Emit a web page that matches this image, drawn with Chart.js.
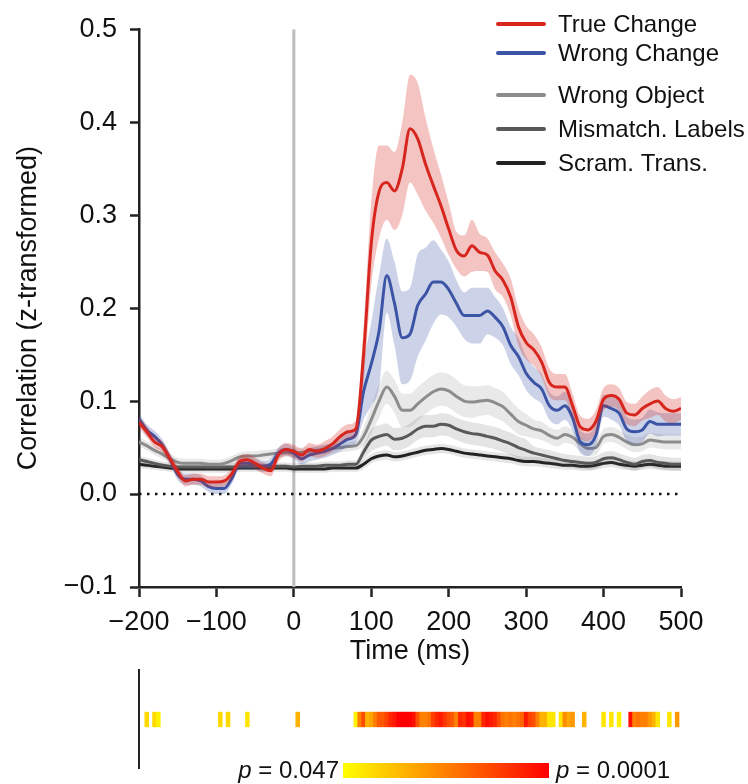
<!DOCTYPE html>
<html>
<head>
<meta charset="utf-8">
<script src="https://cdn.jsdelivr.net/npm/chart.js@4.4.1/dist/chart.umd.min.js"></script>
<style>
  html, body { margin: 0; padding: 0; background: #fff; }
  #wrap { position: relative; width: 748px; height: 784px; overflow: hidden; font-family: "Liberation Sans", Arial, sans-serif; color: #111; }
  #main { position: absolute; left: 0; top: 0; }
  #strip { position: absolute; left: 0; top: 660px; }
  #cbar { position: absolute; left: 343px; top: 763px; width: 206px; height: 15px; background: linear-gradient(to right, rgb(255,255,0), rgb(255,0,0)); }
  .plab { position: absolute; top: 756px; font-size: 24px; line-height: 28px; white-space: nowrap; }
</style>
</head>
<body>
<div id="wrap">
  <canvas id="main" width="748" height="680"></canvas>
  <canvas id="strip" width="748" height="112"></canvas>
  <div id="cbar"></div>
  <div class="plab" style="right:409px"><i>p</i> = 0.047</div>
  <div class="plab" style="left:556px"><i>p</i> = 0.0001</div>
</div>
<script>
// time axis (ms)
const times = [-200, -190, -180, -170, -160, -150, -140, -130, -120, -110,
  -100, -90, -80, -70, -60, -50, -40, -30, -20, -10,
  0, 10, 20, 30, 40, 50, 60, 70, 80, 90,
  100, 110, 120, 130, 140, 150, 160, 170, 180, 190,
  200, 210, 220, 230, 240, 250, 260, 270, 280, 290,
  300, 310, 320, 330, 340, 350, 360, 370, 380, 390,
  400, 410, 420, 430, 440, 450, 460, 470, 480, 490,
  500];

// mean correlation per condition
const trueChange = [0.077, 0.067, 0.056, 0.051, 0.038, 0.024, 0.014, 0.016, 0.016, 0.013,
  0.013, 0.014, 0.022, 0.035, 0.037, 0.033, 0.028, 0.025, 0.042, 0.048,
  0.046, 0.042, 0.048, 0.046, 0.049, 0.054, 0.062, 0.067, 0.070, 0.150,
  0.270, 0.325, 0.335, 0.326, 0.350, 0.393, 0.382, 0.355, 0.332, 0.310,
  0.285, 0.262, 0.256, 0.267, 0.260, 0.257, 0.240, 0.230, 0.212, 0.180,
  0.163, 0.155, 0.142, 0.120, 0.115, 0.115, 0.095, 0.072, 0.069, 0.078,
  0.102, 0.106, 0.102, 0.087, 0.085, 0.092, 0.097, 0.100, 0.092, 0.089,
  0.092];
const wrongChange = [0.081, 0.069, 0.062, 0.053, 0.038, 0.021, 0.016, 0.016, 0.014, 0.008,
  0.006, 0.006, 0.017, 0.033, 0.033, 0.032, 0.030, 0.032, 0.044, 0.048,
  0.044, 0.038, 0.042, 0.044, 0.046, 0.049, 0.054, 0.059, 0.064, 0.110,
  0.140, 0.175, 0.235, 0.205, 0.168, 0.172, 0.203, 0.215, 0.228, 0.228,
  0.220, 0.205, 0.192, 0.192, 0.192, 0.197, 0.190, 0.180, 0.160, 0.148,
  0.130, 0.120, 0.113, 0.095, 0.090, 0.095, 0.082, 0.056, 0.053, 0.063,
  0.095, 0.092, 0.087, 0.070, 0.067, 0.069, 0.078, 0.075, 0.075, 0.075,
  0.075];
const wrongObject = [0.056, 0.052, 0.047, 0.043, 0.038, 0.034, 0.033, 0.033, 0.033, 0.032,
  0.032, 0.033, 0.036, 0.040, 0.041, 0.041, 0.042, 0.043, 0.044, 0.045,
  0.044, 0.045, 0.046, 0.047, 0.048, 0.049, 0.050, 0.051, 0.052, 0.062,
  0.080, 0.100, 0.115, 0.105, 0.090, 0.090, 0.097, 0.104, 0.110, 0.113,
  0.111, 0.105, 0.100, 0.099, 0.100, 0.101, 0.098, 0.094, 0.086, 0.078,
  0.074, 0.070, 0.068, 0.063, 0.060, 0.064, 0.061, 0.054, 0.049, 0.050,
  0.062, 0.064, 0.061, 0.056, 0.053, 0.054, 0.058, 0.057, 0.056, 0.056,
  0.056];
const mismatchLabels = [0.037, 0.035, 0.033, 0.031, 0.030, 0.029, 0.029, 0.029, 0.029, 0.029,
  0.029, 0.029, 0.029, 0.030, 0.030, 0.030, 0.030, 0.030, 0.030, 0.030,
  0.029, 0.030, 0.030, 0.030, 0.031, 0.031, 0.031, 0.032, 0.032, 0.045,
  0.058, 0.062, 0.064, 0.059, 0.060, 0.064, 0.070, 0.073, 0.073, 0.075,
  0.074, 0.070, 0.067, 0.065, 0.064, 0.062, 0.060, 0.057, 0.054, 0.050,
  0.047, 0.044, 0.042, 0.040, 0.038, 0.036, 0.035, 0.034, 0.033, 0.034,
  0.038, 0.039, 0.037, 0.034, 0.032, 0.035, 0.036, 0.034, 0.033, 0.032,
  0.032];
const scramTrans = [0.032, 0.031, 0.030, 0.029, 0.028, 0.027, 0.027, 0.027, 0.027, 0.027,
  0.027, 0.027, 0.027, 0.028, 0.028, 0.028, 0.028, 0.028, 0.028, 0.028,
  0.027, 0.027, 0.027, 0.027, 0.027, 0.028, 0.028, 0.028, 0.028, 0.032,
  0.038, 0.041, 0.042, 0.040, 0.041, 0.043, 0.045, 0.047, 0.048, 0.049,
  0.048, 0.046, 0.044, 0.043, 0.042, 0.041, 0.040, 0.039, 0.038, 0.036,
  0.035, 0.035, 0.034, 0.033, 0.032, 0.031, 0.031, 0.030, 0.030, 0.031,
  0.033, 0.034, 0.032, 0.031, 0.030, 0.031, 0.032, 0.031, 0.030, 0.030,
  0.030];

// standard error (half width of the shaded bands)
const trueChangeSem = [0.006, 0.006, 0.006, 0.006, 0.006, 0.006, 0.006, 0.006, 0.006, 0.006,
  0.006, 0.006, 0.006, 0.006, 0.006, 0.006, 0.006, 0.006, 0.007, 0.007,
  0.007, 0.007, 0.007, 0.007, 0.008, 0.008, 0.008, 0.008, 0.009, 0.030,
  0.045, 0.050, 0.040, 0.042, 0.050, 0.058, 0.060, 0.050, 0.040, 0.034,
  0.028, 0.020, 0.022, 0.028, 0.020, 0.018, 0.020, 0.018, 0.020, 0.020,
  0.018, 0.017, 0.016, 0.015, 0.014, 0.014, 0.013, 0.012, 0.012, 0.012,
  0.012, 0.012, 0.012, 0.012, 0.012, 0.013, 0.015, 0.015, 0.014, 0.013,
  0.012];
const wrongChangeSem = [0.006, 0.006, 0.006, 0.006, 0.006, 0.006, 0.006, 0.006, 0.006, 0.006,
  0.006, 0.006, 0.006, 0.006, 0.006, 0.006, 0.006, 0.006, 0.006, 0.006,
  0.006, 0.006, 0.007, 0.007, 0.007, 0.007, 0.008, 0.008, 0.009, 0.030,
  0.045, 0.060, 0.040, 0.045, 0.050, 0.050, 0.055, 0.050, 0.045, 0.035,
  0.030, 0.025, 0.025, 0.030, 0.030, 0.025, 0.022, 0.020, 0.020, 0.020,
  0.018, 0.017, 0.016, 0.015, 0.015, 0.015, 0.014, 0.012, 0.012, 0.012,
  0.012, 0.012, 0.013, 0.013, 0.013, 0.013, 0.013, 0.013, 0.012, 0.012,
  0.012];
const wrongObjectSem = [0.005, 0.005, 0.005, 0.005, 0.005, 0.005, 0.005, 0.005, 0.005, 0.005,
  0.005, 0.005, 0.005, 0.005, 0.005, 0.005, 0.005, 0.005, 0.005, 0.005,
  0.005, 0.005, 0.005, 0.005, 0.005, 0.005, 0.005, 0.005, 0.005, 0.010,
  0.015, 0.018, 0.018, 0.018, 0.018, 0.018, 0.018, 0.018, 0.018, 0.018,
  0.018, 0.018, 0.017, 0.017, 0.016, 0.016, 0.016, 0.016, 0.015, 0.014,
  0.012, 0.010, 0.010, 0.009, 0.009, 0.009, 0.008, 0.008, 0.008, 0.008,
  0.008, 0.008, 0.008, 0.008, 0.008, 0.008, 0.008, 0.008, 0.008, 0.008,
  0.008];
const mismatchLabelsSem = [0.004, 0.004, 0.004, 0.004, 0.004, 0.004, 0.004, 0.004, 0.004, 0.004,
  0.004, 0.004, 0.004, 0.004, 0.004, 0.004, 0.004, 0.004, 0.004, 0.004,
  0.004, 0.004, 0.004, 0.004, 0.004, 0.004, 0.004, 0.004, 0.004, 0.008,
  0.012, 0.012, 0.012, 0.012, 0.012, 0.012, 0.012, 0.012, 0.012, 0.012,
  0.012, 0.012, 0.012, 0.012, 0.012, 0.012, 0.012, 0.012, 0.012, 0.012,
  0.012, 0.007, 0.007, 0.007, 0.007, 0.007, 0.007, 0.007, 0.007, 0.007,
  0.007, 0.007, 0.007, 0.007, 0.007, 0.007, 0.007, 0.007, 0.007, 0.007,
  0.007];
const scramTransSem = [0.004, 0.004, 0.004, 0.004, 0.004, 0.004, 0.004, 0.004, 0.004, 0.004,
  0.004, 0.004, 0.004, 0.004, 0.004, 0.004, 0.004, 0.004, 0.004, 0.004,
  0.004, 0.004, 0.004, 0.004, 0.004, 0.004, 0.004, 0.004, 0.004, 0.005,
  0.005, 0.005, 0.005, 0.005, 0.005, 0.005, 0.005, 0.005, 0.005, 0.005,
  0.005, 0.005, 0.005, 0.005, 0.005, 0.005, 0.005, 0.005, 0.005, 0.005,
  0.005, 0.005, 0.005, 0.005, 0.005, 0.005, 0.005, 0.005, 0.005, 0.005,
  0.005, 0.005, 0.005, 0.005, 0.005, 0.005, 0.005, 0.005, 0.005, 0.005,
  0.005];

// significant time bins (5 ms) and their level on the p colour scale
// 0 = p 0.047 (yellow), 1 = p 0.0001 (red)
const sigTimes = [-190, -180, -175, -95, -85, -60, 5,
  80, 85, 90, 95, 100, 105, 110, 115, 120, 125, 130, 135, 140, 145, 150, 155,
  160, 165, 170, 175, 180, 185, 190, 195, 200, 205, 210, 215, 220, 225, 230,
  235, 240, 245, 250, 255, 260, 265, 270, 275, 280, 285, 290, 295, 300, 305,
  310, 315, 320, 325, 330, 335, 345, 350, 355, 360, 375, 400, 410, 420,
  435, 440, 445, 450, 455, 460, 465, 470, 485, 495];
const sigLevels = [0.15, 0.15, 0.05, 0.15, 0.15, 0.1, 0.3,
  0.05, 0.5, 0.7, 0.3, 0.35, 0.5, 0.65, 0.65, 0.75, 0.85, 0.9, 1, 1, 1, 1, 0.95,
  0.7, 0.5, 0.5, 0.55, 0.75, 0.85, 0.9, 0.8, 0.7, 0.65, 0.5, 0.85, 0.8, 0.95, 0.9,
  0.5, 0.5, 0.85, 0.95, 0.9, 0.85, 0.7, 0.55, 0.5, 0.55, 0.5, 0.55, 0.6, 0.9, 0.75,
  0.7, 0.5, 0.3, 0.3, 0.1, 0.1, 0.1, 0.45, 0.35, 0.4, 0.3, 0.1, 0.1, 0.05,
  0.95, 0.5, 0.55, 0.5, 0.5, 0.4, 0.3, 0.1, 0.1, 0.4];

const FONT = '"Liberation Sans", Arial, sans-serif';
Chart.defaults.font.family = FONT;
Chart.defaults.font.size = 27;
Chart.defaults.color = '#111';

const seriesList = [
  { label: 'True Change', mean: trueChange, sem: trueChangeSem, color: '#d7261e', band: 'rgba(215,38,30,0.27)' },
  { label: 'Wrong Change', mean: wrongChange, sem: wrongChangeSem, color: '#3b54a5', band: 'rgba(59,84,165,0.26)' },
  { label: 'Wrong Object', mean: wrongObject, sem: wrongObjectSem, color: '#8c8c8c', band: 'rgba(120,120,120,0.16)' },
  { label: 'Mismatch. Labels', mean: mismatchLabels, sem: mismatchLabelsSem, color: '#595959', band: 'rgba(90,90,90,0.16)' },
  { label: 'Scram. Trans.', mean: scramTrans, sem: scramTransSem, color: '#222222', band: 'rgba(40,40,40,0.12)' }
];

const clear = 'rgba(0,0,0,0)';
const datasets = [];
seriesList.forEach((s) => {
  datasets.push({
    label: s.label,
    data: times.map((t, i) => ({ x: t, y: s.mean[i] })),
    borderColor: s.color, borderWidth: 3, pointRadius: 0, fill: false
  });
  datasets.push({
    label: s.label + ' upper',
    data: times.map((t, i) => ({ x: t, y: s.mean[i] + s.sem[i] })),
    borderColor: clear, borderWidth: 1, pointRadius: 0, fill: false
  });
  datasets.push({
    label: s.label + ' lower',
    data: times.map((t, i) => ({ x: t, y: s.mean[i] - s.sem[i] })),
    borderColor: clear, borderWidth: 1, pointRadius: 0,
    fill: '-1', backgroundColor: s.band
  });
});
// dotted zero line and stimulus onset
datasets.push({
  label: 'zero', data: [{ x: -200, y: 0 }, { x: 500, y: 0 }],
  borderColor: '#111', borderWidth: 2.5, borderDash: [2.5, 5.5], pointRadius: 0, fill: false
});
datasets.push({
  label: 'onset', data: [{ x: 0, y: -0.1 }, { x: 0, y: 0.5 }],
  borderColor: '#bdbdbd', borderWidth: 3, pointRadius: 0, fill: false
});

const legendRows = [
  { label: 'True Change', color: '#d7261e', y: 24 },
  { label: 'Wrong Change', color: '#3b54a5', y: 53 },
  { label: 'Wrong Object', color: '#8c8c8c', y: 95 },
  { label: 'Mismatch. Labels', color: '#595959', y: 129 },
  { label: 'Scram. Trans.', color: '#222222', y: 163 }
];

const legendPlugin = {
  id: 'sideLegend',
  afterDraw(chart) {
    const ctx = chart.ctx;
    ctx.save();
    ctx.font = '24px ' + FONT;
    ctx.textBaseline = 'middle';
    ctx.lineCap = 'round';
    legendRows.forEach((r) => {
      ctx.strokeStyle = r.color;
      ctx.lineWidth = 4;
      ctx.beginPath();
      ctx.moveTo(498, r.y);
      ctx.lineTo(544, r.y);
      ctx.stroke();
      ctx.fillStyle = '#111';
      ctx.fillText(r.label, 558, r.y + 1);
    });
    ctx.restore();
  }
};

// tick text with a real minus sign; the threshold skips float noise such as -1e-17
const minus = (v) => (v < -1e-9 ? '\u2212' : '');

new Chart(document.getElementById('main'), {
  type: 'line',
  data: { datasets: datasets },
  options: {
    responsive: false,
    animation: false,
    devicePixelRatio: 1,
    elements: { line: { cubicInterpolationMode: 'monotone' } },
    layout: { padding: { left: 0, right: 67, top: 22, bottom: 0 } },
    plugins: { legend: { display: false }, tooltip: { enabled: false } },
    scales: {
      x: {
        type: 'linear', min: -200, max: 500,
        afterFit: (s) => { s.height = 93; },
        border: { display: true, color: '#222', width: 2.5 },
        grid: { display: true, drawOnChartArea: false, drawTicks: true, tickLength: 10, tickWidth: 2.5, tickColor: '#222' },
        ticks: {
          stepSize: 100, padding: 9, autoSkip: false, maxRotation: 0,
          callback: (v) => minus(v) + Math.abs(Math.round(v))
        },
        title: { display: true, text: 'Time (ms)', font: { size: 27 }, padding: { top: 0, bottom: 12 } }
      },
      y: {
        min: -0.1, max: 0.5,
        afterFit: (s) => { s.width = 139; },
        border: { display: true, color: '#222', width: 2.5 },
        grid: { display: true, drawOnChartArea: false, drawTicks: true, tickLength: 9, tickWidth: 2.5, tickColor: '#222' },
        ticks: {
          stepSize: 0.1, padding: 13,
          callback: (v) => minus(v) + Math.abs(v).toFixed(1)
        },
        title: { display: true, text: 'Correlation (z-transformed)', font: { size: 27 }, padding: { top: 12, bottom: 0 } }
      }
    }
  },
  plugins: [legendPlugin]
});

const levelColor = (lv) => 'rgb(255,' + Math.round(255 * (1 - lv)) + ',0)';

new Chart(document.getElementById('strip'), {
  type: 'bar',
  data: {
    datasets: [{
      data: sigTimes.map((t) => ({ x: t, y: [0.42, 0.57] })),
      backgroundColor: sigLevels.map(levelColor),
      borderWidth: 0, barPercentage: 1, categoryPercentage: 1
    }]
  },
  options: {
    responsive: false,
    animation: false,
    devicePixelRatio: 1,
    layout: { padding: { left: 0, right: 67, top: 10, bottom: 4 } },
    plugins: { legend: { display: false }, tooltip: { enabled: false } },
    scales: {
      x: { type: 'linear', min: -200, max: 500, offset: false, display: false, grid: { offset: false } },
      y: {
        min: 0, max: 1,
        afterFit: (s) => { s.width = 139; },
        ticks: { display: false },
        grid: { display: false },
        border: { display: true, color: '#222', width: 2 }
      }
    }
  }
});
</script>
</body>
</html>
